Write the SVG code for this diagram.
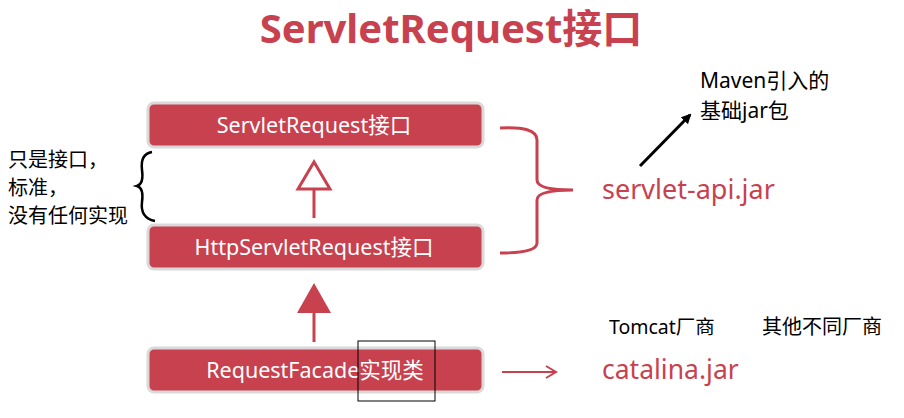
<svg xmlns="http://www.w3.org/2000/svg" width="904" height="418" viewBox="0 0 904 418">
<defs>
<style>
text{font-family:"Noto Sans","Noto Sans CJK SC",sans-serif;}
.box{fill:#C8414F;stroke:#D9D9D9;stroke-width:3;}
.bt{fill:#fff;font-size:21.5px;text-anchor:middle;}
.red{fill:#C8414F;}
.blk{fill:#000;}
</style>
<marker id="ah" markerWidth="10" markerHeight="10" refX="8" refY="5" orient="auto" markerUnits="userSpaceOnUse"><path d="M0,0 L10,5 L0,10 Z" fill="#000"/></marker>
</defs>
<rect width="904" height="418" fill="#fff"/>
<text x="451" y="43" text-anchor="middle" font-size="40" font-weight="bold" class="red">ServletRequest接口</text>

<g id="n1"><rect class="box" x="148" y="103" width="335" height="44" rx="6"/><text class="bt" x="314" y="133">ServletRequest接口</text></g>
<g id="n2"><rect class="box" x="148" y="225" width="335" height="44" rx="6"/><text class="bt" x="314" y="255">HttpServletRequest接口</text></g>
<g id="n3"><rect class="box" x="148" y="348" width="335" height="44" rx="6"/><text class="bt" x="315" y="378">RequestFacade实现类</text><rect x="358" y="341" width="77" height="60" fill="none" stroke="#000" stroke-width="1"/></g>

<g id="connectors">
<line x1="314" y1="189" x2="314" y2="218" stroke="#C8414F" stroke-width="3"/>
<polygon points="314,162 298,189 330,189" fill="#fff" stroke="#C8414F" stroke-width="3"/>
<line x1="314" y1="312" x2="314" y2="342" stroke="#C8414F" stroke-width="3"/>
<polygon points="314,283 297,313 331,313" fill="#C8414F"/>
<path d="M500,128 Q537,126 537,140 L537,180 Q537,190 573,190 Q537,190 537,200 L537,243 Q537,253 500,253" fill="none" stroke="#C8414F" stroke-width="3"/>
<line x1="502" y1="372" x2="555" y2="372" stroke="#C8414F" stroke-width="2"/>
<path d="M546,366 L556,372 L546,378" fill="none" stroke="#C8414F" stroke-width="2"/>
<line x1="640" y1="166" x2="690" y2="115" stroke="#000" stroke-width="3" marker-end="url(#ah)"/>
<path d="M152,152 Q140,154 142,170 Q144,184 137,186 Q144,188 142,202 Q140,218 155,221" fill="none" stroke="#000" stroke-width="2.5"/>
</g>

<text x="8" y="167" font-size="20" class="blk">只是接口，</text>
<text x="8" y="195" font-size="20" class="blk">标准，</text>
<text x="8" y="223" font-size="20" class="blk">没有任何实现</text>

<text x="602" y="199" font-size="27" class="red">servlet-api.jar</text>
<text x="602" y="379" font-size="26.5" class="red">catalina.jar</text>
<text x="700" y="88" font-size="21" class="blk">Maven引入的</text>
<text x="700" y="118" font-size="21" class="blk">基础jar包</text>
<text x="609" y="334" font-size="19.5" class="blk">Tomcat厂商</text>
<text x="762" y="334" font-size="20" class="blk">其他不同厂商</text>
</svg>
